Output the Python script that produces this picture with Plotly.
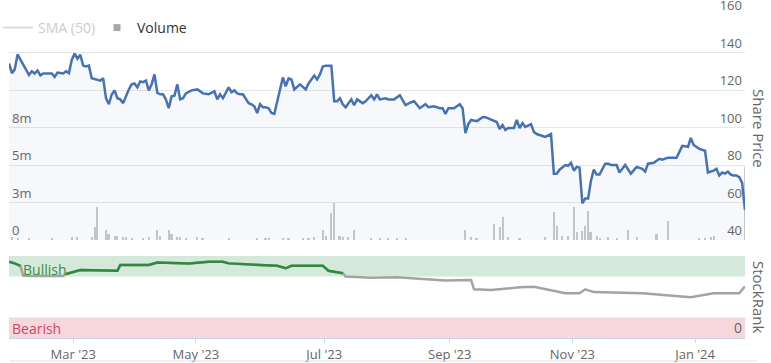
import plotly.graph_objects as go

# ---------------- data ----------------
price_dates = [
    "2023-01-27", "2023-01-30", "2023-01-31", "2023-02-01", "2023-02-03", "2023-02-07", "2023-02-08",
    "2023-02-09", "2023-02-10", "2023-02-13", "2023-02-14", "2023-02-17", "2023-02-20", "2023-02-21",
    "2023-02-23", "2023-02-24", "2023-02-27", "2023-02-28", "2023-03-01", "2023-03-02", "2023-03-03",
    "2023-03-06", "2023-03-07", "2023-03-08", "2023-03-09", "2023-03-13", "2023-03-14", "2023-03-15",
    "2023-03-16", "2023-03-17", "2023-03-20", "2023-03-21", "2023-03-22", "2023-03-23", "2023-03-24",
    "2023-03-28", "2023-03-29", "2023-03-30", "2023-03-31", "2023-04-03", "2023-04-04", "2023-04-05",
    "2023-04-06", "2023-04-07", "2023-04-10", "2023-04-11", "2023-04-12", "2023-04-13", "2023-04-14",
    "2023-04-17", "2023-04-18", "2023-04-19", "2023-04-20", "2023-04-21", "2023-04-24", "2023-04-25",
    "2023-04-27", "2023-05-01", "2023-05-03", "2023-05-05", "2023-05-09", "2023-05-10", "2023-05-11",
    "2023-05-12", "2023-05-15", "2023-05-16", "2023-05-17", "2023-05-18", "2023-05-19", "2023-05-22",
    "2023-05-23", "2023-05-25", "2023-05-26", "2023-05-29", "2023-05-30", "2023-05-31", "2023-06-01",
    "2023-06-02", "2023-06-05", "2023-06-06", "2023-06-07", "2023-06-08", "2023-06-09", "2023-06-12",
    "2023-06-13", "2023-06-14", "2023-06-15", "2023-06-16", "2023-06-20", "2023-06-22", "2023-06-23",
    "2023-06-27", "2023-06-28", "2023-06-29", "2023-06-30", "2023-07-03", "2023-07-05", "2023-07-06",
    "2023-07-07", "2023-07-10", "2023-07-11", "2023-07-12", "2023-07-14", "2023-07-17", "2023-07-18",
    "2023-07-20", "2023-07-21", "2023-07-25", "2023-07-26", "2023-07-27", "2023-07-28", "2023-08-01",
    "2023-08-02", "2023-08-04", "2023-08-08", "2023-08-10", "2023-08-14", "2023-08-15", "2023-08-17",
    "2023-08-21", "2023-08-22", "2023-08-24", "2023-08-28", "2023-08-29", "2023-08-30", "2023-08-31",
    "2023-09-04", "2023-09-06", "2023-09-07", "2023-09-08", "2023-09-11", "2023-09-12", "2023-09-14",
    "2023-09-18", "2023-09-19", "2023-09-21", "2023-09-25", "2023-09-26", "2023-09-27", "2023-09-28",
    "2023-09-29", "2023-10-03", "2023-10-04", "2023-10-05", "2023-10-06", "2023-10-09", "2023-10-11",
    "2023-10-12", "2023-10-13", "2023-10-17", "2023-10-18", "2023-10-20", "2023-10-23", "2023-10-24",
    "2023-10-25", "2023-10-27", "2023-10-30", "2023-10-31", "2023-11-01", "2023-11-02", "2023-11-03",
    "2023-11-06", "2023-11-07", "2023-11-08", "2023-11-09", "2023-11-10", "2023-11-13", "2023-11-14",
    "2023-11-16", "2023-11-17", "2023-11-20", "2023-11-22", "2023-11-23", "2023-11-27", "2023-11-29",
    "2023-12-01", "2023-12-05", "2023-12-06", "2023-12-07", "2023-12-11", "2023-12-13", "2023-12-14",
    "2023-12-18", "2023-12-21", "2023-12-25", "2023-12-27", "2023-12-28", "2023-12-29", "2024-01-02",
    "2024-01-04", "2024-01-05", "2024-01-09", "2024-01-10", "2024-01-11", "2024-01-12", "2024-01-15",
    "2024-01-16", "2024-01-17", "2024-01-18", "2024-01-19", "2024-01-22", "2024-01-23", "2024-01-24",
]
price_values = [
    134.2, 129, 131, 139, 133.5, 128, 130,
    128.8, 130.4, 127.8, 128.8, 128.8, 127, 129.3,
    128.8, 130, 129, 136, 139.4, 136.7, 138.8,
    133, 132.5, 133, 126.3, 125.6, 125, 126.3,
    115.6, 112.4, 117.6, 119.8, 115.6, 115, 113,
    120.3, 123, 123.5, 121.4, 124.6, 124.2, 125,
    119.8, 123, 128.3, 118.4, 117.7, 117.7, 115,
    110.3, 116.6, 117, 123, 115, 115.6, 118.2,
    119.8, 120.3, 118.2, 117.7, 119.3, 115, 117.7,
    115.6, 118.2, 121.4, 118.8, 119.8, 118.2, 117.7,
    117.7, 113, 112.4, 111.3, 107.7, 112.4, 110.8,
    110.8, 110.3, 107.7, 107.2, 114, 120.9, 126.7,
    122, 126.2, 125.6, 120.3, 123, 120.3, 123.5,
    127.7, 125.6, 128.3, 132.5, 133, 133, 114,
    114, 115.6, 112.4, 110.8, 115, 111.9, 115,
    113, 114, 117.2, 115, 117.7, 115, 115.6,
    115, 115, 117.2, 111.9, 113.5, 114, 110.3,
    112.4, 110.8, 111.3, 110.3, 110.3, 107.2, 110.3,
    110.3, 112.4, 110.3, 97, 101.8, 104, 103.4,
    105.5, 105.5, 104, 102.9, 99.2, 101.3, 98.7,
    99.7, 99.7, 104, 99.7, 102.4, 100.3, 101.8,
    97.6, 96.5, 95.5, 95, 96.5, 75.4, 75.4,
    77.5, 80, 79.6, 81.2, 77, 79, 78.6,
    59.6, 62.2, 62.2, 71.7, 77.5, 74.9, 74.9,
    80.7, 80.7, 80, 80, 76, 80, 75.4,
    79, 78, 76.5, 80.7, 81.2, 83.3, 82.8,
    83.9, 83.9, 90.2, 89.7, 94.4, 90.7, 88.6,
    87.6, 76, 77, 78, 74.4, 76, 75.4,
    76.5, 74.9, 74.4, 74.4, 73.5, 70.5, 56,
]

volume_dates = [
    "2023-01-30", "2023-02-01", "2023-02-07", "2023-02-17", "2023-02-28", "2023-03-02", "2023-03-09",
    "2023-03-10", "2023-03-13", "2023-03-16", "2023-03-17", "2023-03-21", "2023-03-22", "2023-03-24",
    "2023-03-27", "2023-03-29", "2023-04-04", "2023-04-06", "2023-04-11", "2023-04-12", "2023-04-17",
    "2023-04-18", "2023-04-20", "2023-04-21", "2023-04-25", "2023-05-01", "2023-05-03", "2023-05-16",
    "2023-05-30", "2023-06-02", "2023-06-05", "2023-06-12", "2023-06-14", "2023-06-21", "2023-06-23",
    "2023-06-27", "2023-06-30", "2023-07-03", "2023-07-05", "2023-07-06", "2023-07-10", "2023-07-11",
    "2023-07-13", "2023-07-17", "2023-07-25", "2023-07-28", "2023-08-02", "2023-08-07", "2023-08-10",
    "2023-09-08", "2023-09-12", "2023-09-14", "2023-09-22", "2023-09-26", "2023-09-27", "2023-09-29",
    "2023-10-05", "2023-10-18", "2023-10-23", "2023-10-24", "2023-10-26", "2023-10-30", "2023-11-01",
    "2023-11-02", "2023-11-06", "2023-11-07", "2023-11-08", "2023-11-09", "2023-11-13", "2023-11-14",
    "2023-11-17", "2023-11-22", "2023-11-28", "2023-12-01", "2023-12-12", "2023-12-18", "2024-01-02",
    "2024-01-04", "2024-01-08", "2024-01-09", "2024-01-24",
]
volume_millions = [
    0.23, 0.14, 0.07, 0.14, 0.18, 0.18, 0.18,
    0.87, 2.2, 0.69, 0.41, 0.30, 0.30, 0.23,
    0.18, 0.14, 0.14, 0.18, 0.64, 0.30, 0.64,
    0.41, 0.23, 0.18, 0.14, 0.18, 0.14, 0.14,
    0.14, 0.14, 0.14, 0.14, 0.14, 0.14, 0.14,
    0.23, 0.64, 0.30, 1.8, 2.48, 0.30, 0.23,
    0.23, 0.64, 0.14, 0.14, 0.14, 0.14, 0.14,
    0.64, 0.23, 0.14, 1.1, 0.87, 1.51, 0.23,
    0.14, 0.23, 1.86, 0.92, 0.30, 0.30, 2.2,
    0.53, 0.60, 0.92, 1.95, 0.53, 0.30, 0.14,
    0.23, 0.14, 0.69, 0.18, 0.41, 1.28, 0.14,
    0.14, 0.18, 0.25, 4.9,
]

rank_dates = [
    "2023-01-27", "2023-01-31", "2023-02-02", "2023-02-03", "2023-02-08", "2023-02-15", "2023-02-23",
    "2023-02-24", "2023-03-03", "2023-03-22", "2023-03-23", "2023-04-06", "2023-04-11", "2023-04-26",
    "2023-05-05", "2023-05-12", "2023-05-16", "2023-06-08", "2023-06-13", "2023-06-15", "2023-06-30",
    "2023-07-04", "2023-07-07", "2023-07-11", "2023-07-12", "2023-07-25", "2023-08-07", "2023-08-21",
    "2023-08-30", "2023-09-12", "2023-09-13", "2023-09-21", "2023-09-28", "2023-10-05", "2023-10-12",
    "2023-10-27", "2023-11-03", "2023-11-07", "2023-11-10", "2023-12-05", "2023-12-28", "2024-01-09",
    "2024-01-22", "2024-01-24",
]
rank_values = [
    93, 91, 88, 76, 75.6, 75.2, 75.6,
    78, 83, 82, 89, 89, 92, 91,
    93, 93, 91, 88, 85, 88, 88,
    82, 80, 79, 75, 73.5, 74, 71.6,
    70, 70.7, 59.4, 58.5, 60.6, 61.8, 62.6,
    54.5, 54.5, 59.4, 56, 54.5, 49.6, 54.5,
    54.5, 63,
]
rank_bull_threshold = 77

tick_dates = ["2023-03-01", "2023-05-01", "2023-07-03", "2023-09-01", "2023-11-01", "2024-01-01"]
tick_labels = ["Mar '23", "May '23", "Jul '23", "Sep '23", "Nov '23", "Jan '24"]
price_ticks = [40, 60, 80, 100, 120, 140, 160]
volume_ticks = [0, 2.5, 5, 7.5]
volume_tick_labels = ["0", "3m", "5m", "8m"]
rank_bands = {"Bullish": (75, 100), "Bearish": (0, 25)}

# ---------------- figure ----------------
FONT = "Open Sans"
DAY_MS = 86400000
period = dict(xperiod=DAY_MS, xperiodalignment="middle")

fig = go.Figure()

fig.add_trace(go.Bar(
    x=volume_dates, y=volume_millions, yaxis="y", xaxis="x",
    marker=dict(color="#c9c9c9", line=dict(width=0)),
    width=0.7 * DAY_MS, showlegend=False, hoverinfo="skip", **period,
))

fig.add_trace(go.Scatter(
    x=price_dates, y=price_values, yaxis="y3", xaxis="x", mode="lines",
    line=dict(color="#4572b7", width=2.5), fill="tozeroy",
    fillcolor="rgba(69,114,183,0.05)", showlegend=False, **period,
))

green_vals = [v if v >= rank_bull_threshold else None for v in rank_values]
fig.add_trace(go.Scatter(
    x=rank_dates, y=rank_values, yaxis="y2", xaxis="x", mode="lines",
    line=dict(color="#a3a3a3", width=2.5), showlegend=False, **period,
))
fig.add_trace(go.Scatter(
    x=rank_dates, y=green_vals, yaxis="y2", xaxis="x", mode="lines",
    line=dict(color="#2f8a3f", width=2.5), connectgaps=False, showlegend=False, **period,
))

# legend entries
fig.add_trace(go.Scatter(
    x=[None], y=[None], name="SMA (50)", mode="lines",
    line=dict(color="#bbbbbb", width=2), visible="legendonly", legend="legend",
))
fig.add_trace(go.Scatter(
    x=[None], y=[None], name="Volume", mode="markers",
    marker=dict(symbol="square", size=7, color="#a8a8a8"), legend="legend2",
))

W, H = 771, 363
ml, mr, mt, mb = 9, 26, 15, 25
pw = W - ml - mr
ph = H - mt - mb


def px_x(x):
    return (x - ml) / pw


def px_y(y):
    return (H - mb - y) / ph


price_dom = [px_y(240), 1.0]
rank_dom = [0.0, px_y(256)]

for name, (lo, hi) in rank_bands.items():
    fig.add_shape(type="rect", xref="x domain", yref="y2", x0=0, x1=1, y0=lo, y1=hi,
                  fillcolor="#d5e9db" if name == "Bullish" else "#f6d7dc",
                  line=dict(width=0), layer="below")

fig.add_annotation(text="Bullish", xref="paper", yref="y2", x=px_x(21), y=83,
                   xanchor="left", yanchor="middle", showarrow=False,
                   font=dict(family=FONT, size=14, color="#3a8c47"))
fig.add_annotation(text="Bearish", xref="paper", yref="y2", x=px_x(10), y=11,
                   xanchor="left", yanchor="middle", showarrow=False,
                   font=dict(family=FONT, size=14, color="#d2475f"))
fig.add_annotation(text="Share Price", xref="paper", yref="paper", x=px_x(771), y=px_y(128),
                   textangle=90, showarrow=False, xanchor="right", yanchor="middle",
                   font=dict(family=FONT, size=15, color="#666666"))
fig.add_annotation(text="StockRank", xref="paper", yref="paper", x=px_x(771), y=px_y(297),
                   textangle=90, showarrow=False, xanchor="right", yanchor="middle",
                   font=dict(family=FONT, size=15, color="#666666"))

fig.add_shape(type="line", xref="paper", yref="paper", x0=px_x(10), x1=px_x(757),
              y0=px_y(361), y1=px_y(361), line=dict(color="#e0e0e0", width=1))

fig.update_layout(
    width=W, height=H,
    margin=dict(l=ml, r=mr, t=mt, b=mb, pad=0, autoexpand=False),
    paper_bgcolor="white", plot_bgcolor="white",
    font=dict(family=FONT, size=13, color="#666666"),
    bargap=0,
    xaxis=dict(
        type="date", anchor="y2", domain=[0, 1],
        range=["2023-01-27 12:00", "2024-01-24 12:00"],
        rangebreaks=[dict(bounds=["sat", "mon"])],
        tickvals=tick_dates, ticktext=tick_labels,
        ticks="outside", ticklen=4, tickcolor="#ccd6eb",
        showline=True, linecolor="#ccd6eb", showgrid=False, zeroline=False,
        tickfont=dict(family=FONT, size=13, color="#666666"),
    ),
    yaxis=dict(  # volume
        domain=price_dom, anchor="x", side="left", range=[0, 15],
        tickvals=volume_ticks, ticktext=volume_tick_labels,
        ticklabelposition="inside top", ticklabeloverflow="allow",
        showgrid=False, zeroline=False, showline=False,
        tickfont=dict(family=FONT, size=13, color="#666666"),
    ),
    yaxis3=dict(  # price
        overlaying="y", side="right", anchor="x", range=[40, 160],
        tickvals=price_ticks, ticklabelposition="inside top", ticklabeloverflow="allow",
        showgrid=True, gridcolor="#e6e6e6", gridwidth=1, zeroline=False, showline=False,
        tickfont=dict(family=FONT, size=13, color="#666666"),
    ),
    yaxis2=dict(  # stockrank
        domain=rank_dom, anchor="x", side="right", range=[0, 100],
        tickvals=[0], ticktext=["0"], ticklabelposition="inside top", ticklabeloverflow="allow",
        showgrid=False, zeroline=False, showline=False,
        tickfont=dict(family=FONT, size=14, color="#666666"),
    ),
    legend=dict(orientation="h", x=px_x(-2), y=px_y(28), xanchor="left", yanchor="middle",
                bgcolor="rgba(0,0,0,0)", font=dict(family=FONT, size=14, color="#999999")),
    legend2=dict(orientation="h", x=px_x(97), y=px_y(28), xanchor="left", yanchor="middle",
                 bgcolor="rgba(0,0,0,0)", font=dict(family=FONT, size=14, color="#333333")),
)

fig.write_html(
    "out.html",
    config={"displayModeBar": False},
    post_script="document.body.style.margin='0';document.body.style.overflow='hidden';",
)
